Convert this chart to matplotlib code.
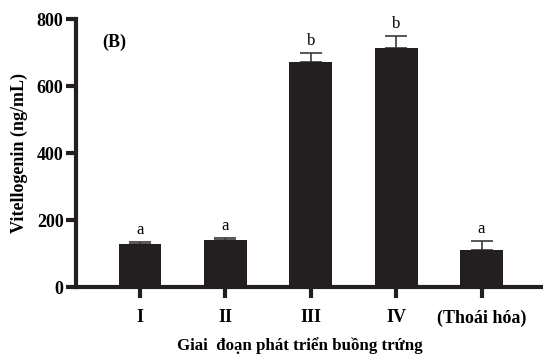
import numpy as np
from matplotlib import pyplot as plt

stages = ['I', 'II', 'III', 'IV', '(Thoái hóa)']
values = [128, 140, 672, 713, 110]
errors = [6, 6, 26, 36, 27]
letters = ['a', 'a', 'b', 'b', 'a']

plt.rcParams['font.family'] = ['Liberation Serif', 'DejaVu Serif']

fig = plt.figure(figsize=(5.43, 3.54), dpi=100)
ax = fig.add_axes([0.140, 0.189, 0.86, 0.757])

x = np.arange(len(stages))
ax.bar(x, values, width=0.5, color='#231f20', zorder=2)
ax.errorbar(x, values, yerr=[np.zeros(len(errors)), errors], fmt='none',
            ecolor='#3a3a3a', elinewidth=1.2, capsize=8, capthick=1.2, zorder=1)

for xi, v, e, l in zip(x, values, errors, letters):
    ax.text(xi, v + e + 12, l, ha='center', va='bottom', fontsize=12)

ax.text(-0.44, 731, '(B)', fontsize=13, fontweight='bold', va='center')

ax.set_xlim(-0.75, 4.72)
ax.set_ylim(0, 800)
ax.set_yticks([0, 200, 400, 600, 800])
ax.set_xticks(x)
ax.set_xticklabels(stages)

for lab in ax.get_xticklabels() + ax.get_yticklabels():
    lab.set_fontweight('bold')
    lab.set_fontsize(13)

ax.spines['top'].set_visible(False)
ax.spines['right'].set_visible(False)
ax.spines['left'].set_linewidth(3)
ax.spines['bottom'].set_linewidth(3)
ax.spines['left'].set_color('#231f20')
ax.spines['bottom'].set_color('#231f20')
ax.tick_params(axis='y', length=7, width=3, color='#231f20', pad=2)
ax.tick_params(axis='x', length=8, width=3, color='#231f20', pad=8)

ax.set_ylabel('Vitellogenin (ng/mL)', fontsize=13, fontweight='bold', labelpad=6)
ax.set_xlabel('Giai  đoạn phát triển buồng trứng', fontsize=12.2, fontweight='bold')
ax.xaxis.set_label_coords(0.48, -0.185)

fig.savefig('out.png', dpi=100)
